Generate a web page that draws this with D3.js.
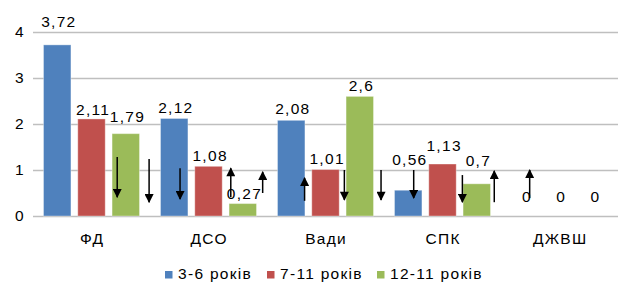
<!DOCTYPE html>
<html>
<head>
<meta charset="utf-8">
<script src="https://cdn.jsdelivr.net/npm/d3@7"></script>
<style>
  html, body { margin: 0; padding: 0; background: #fff; }
  svg text { font-family: "Liberation Sans", Arial, Helvetica, sans-serif; fill: #000; letter-spacing: 1.3px; }
</style>
</head>
<body>
<svg id="chart" width="619" height="285"></svg>
<script>
// ---- data ----
const categories = ["ФД", "ДСО", "Вади", "СПК", "ДЖВШ"];
const seriesNames = ["3-6 років", "7-11 років", "12-11 років"];
const values36 = [3.72, 2.12, 2.08, 0.56, 0];
const values711 = [2.11, 1.08, 1.01, 1.13, 0];
const values1211 = [1.79, 0.27, 2.6, 0.7, 0];
const labels36 = ["3,72", "2,12", "2,08", "0,56", "0"];
const labels711 = ["2,11", "1,08", "1,01", "1,13", "0"];
const labels1211 = ["1,79", "0,27", "2,6", "0,7", "0"];
const yTicks = [0, 1, 2, 3, 4];
// arrows: [category, slot (bar position within group), from value, to value (head)]
const arrows = [
  ["ФД", 1.75, 1.28, 0.41],
  ["ФД", 2.68, 1.24, 0.30],
  ["ДСО", 0.17, 1.04, 0.37],
  ["ДСО", 1.65, 0.41, 1.04],
  ["ДСО", 2.58, 0.50, 0.96],
  ["Вади", 0.39, 0.33, 0.83],
  ["Вади", 1.55, 1.00, 0.35],
  ["Вади", 2.62, 1.00, 0.35],
  ["СПК", 0.16, 1.00, 0.39],
  ["СПК", 1.58, 0.89, 0.30],
  ["СПК", 2.51, 0.30, 0.98],
  ["ДЖВШ", 0.13, 0.39, 1.00]
];

// ---- layout ----
const colors = ["#4F81BD", "#C0504D", "#9BBB59"];
const plot = { left: 33, right: 618, top: 32, bottom: 216 };
const fontSize = 15.5;
const ls = 1.3;
// extra vertical lift of each value label above its bar (px), per series per category
const labelLift = [
  [18, 5, 6, 25, 14],
  [4, 5, 6, 13, 14],
  [12, 5, 5, 18, 14]
];

const svg = d3.select("#chart");
const x0 = d3.scaleBand().domain(categories).range([plot.left, plot.right]).padding(0);
const x1 = d3.scaleBand().domain(seriesNames).range([10.5, x0.bandwidth() - 10.5]).paddingInner(0.2).paddingOuter(0);
const y = d3.scaleLinear().domain([0, 4]).range([plot.bottom, plot.top]);

// gridlines
svg.append("g").selectAll("line").data(yTicks).join("line")
  .attr("x1", plot.left).attr("x2", plot.right)
  .attr("y1", d => y(d) + 0.5).attr("y2", d => y(d) + 0.5)
  .attr("stroke", "#BFBFBF").attr("stroke-width", 1.3);

// y axis labels
const yAxis = d3.axisLeft(y).tickValues(yTicks).tickSize(0).tickPadding(8).tickFormat(d3.format("d"));
const yg = svg.append("g").attr("transform", `translate(${plot.left},0)`).call(yAxis);
yg.select(".domain").remove();
yg.selectAll("text").style("font-size", fontSize + "px").style("font-family", "Liberation Sans, Arial, sans-serif").attr("fill", "#000");

// x axis labels
const xAxis = d3.axisBottom(x0).tickSize(0).tickPadding(17);
const xg = svg.append("g").attr("transform", `translate(0,${plot.bottom})`).call(xAxis);
xg.select(".domain").remove();
xg.selectAll("text").style("font-size", fontSize + "px").style("font-family", "Liberation Sans, Arial, sans-serif")
  .attr("fill", "#000").attr("dx", ls / 2);

// bars
const seriesValues = [values36, values711, values1211];
const seriesLabels = [labels36, labels711, labels1211];
const barData = [];
seriesNames.forEach((s, si) => {
  categories.forEach((c, ci) => {
    barData.push({ s, si, c, ci, v: seriesValues[si][ci], label: seriesLabels[si][ci] });
  });
});

svg.append("g").selectAll("rect").data(barData.filter(d => d.v > 0)).join("rect")
  .attr("x", d => x0(d.c) + x1(d.s))
  .attr("y", d => y(d.v))
  .attr("width", x1.bandwidth())
  .attr("height", d => y(0) - y(d.v))
  .attr("fill", d => colors[d.si])
  .attr("stroke", "#fff").attr("stroke-opacity", 0.35).attr("stroke-width", 1);

// value labels
svg.append("g").selectAll("text").data(barData).join("text")
  .attr("x", d => x0(d.c) + x1(d.s) + x1.bandwidth() / 2 + 1 + ls / 2)
  .attr("y", d => y(d.v) - labelLift[d.si][d.ci])
  .attr("text-anchor", "middle")
  .style("font-size", fontSize + "px")
  .text(d => d.label);

// arrows
const defs = svg.append("defs");
defs.append("marker").attr("id", "head").attr("viewBox", "0 0 10 10")
  .attr("refX", 9).attr("refY", 5).attr("markerWidth", 10).attr("markerHeight", 9)
  .attr("markerUnits", "userSpaceOnUse").attr("orient", "auto")
  .append("path").attr("d", "M0,0 L10,5 L0,10 Z").attr("fill", "#000");

const slotX = (c, slot) => x0(c) + x1(seriesNames[0]) + x1.bandwidth() / 2 + slot * x1.step();
svg.append("g").selectAll("line").data(arrows).join("line")
  .attr("x1", d => slotX(d[0], d[1])).attr("x2", d => slotX(d[0], d[1]))
  .attr("y1", d => y(d[2])).attr("y2", d => y(d[3]))
  .attr("stroke", "#000").attr("stroke-width", 1.5)
  .attr("marker-end", "url(#head)");

// legend
const legendX = [165, 267, 377];
const lg = svg.append("g");
seriesNames.forEach((s, i) => {
  lg.append("rect").attr("x", legendX[i]).attr("y", 271).attr("width", 7.5).attr("height", 7.5).attr("fill", colors[i]);
  lg.append("text").attr("x", legendX[i] + 13).attr("y", 279).style("font-size", fontSize + "px").text(s);
});
</script>
</body>
</html>
